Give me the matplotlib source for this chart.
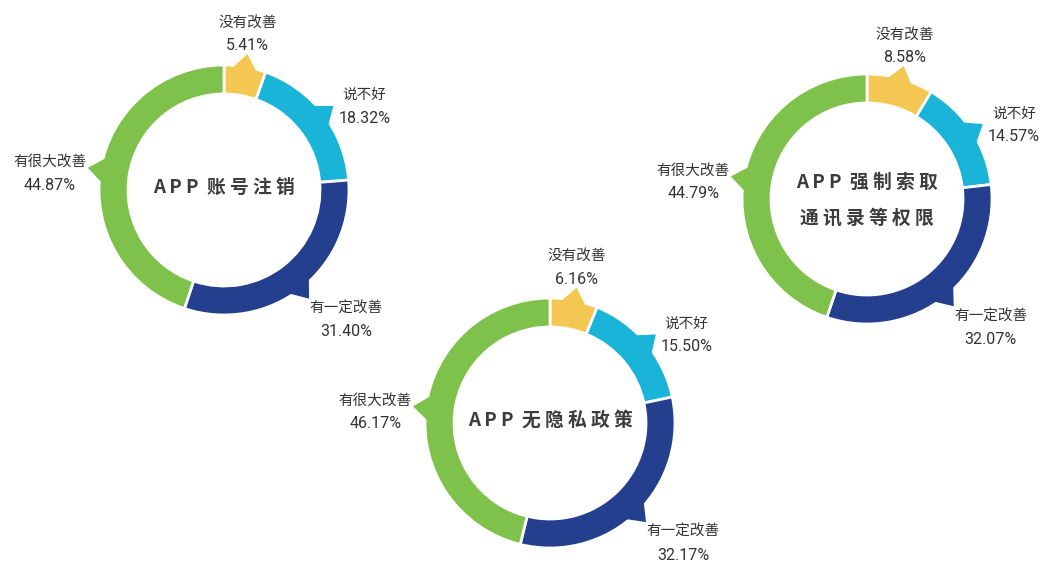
import numpy as np
import matplotlib.pyplot as plt
from matplotlib.patches import Polygon

plt.rcParams['font.family'] = ['Noto Sans CJK SC', 'DejaVu Sans']

# data
categories = ['没有改善', '说不好', '有一定改善', '有很大改善']
colors = ['#F4C752', '#1AB4D9', '#243F8E', '#7EC24B']
titles = ['A P P  账 号 注 销', 'A P P  无 隐 私 政 策',
          'A P P  强 制 索 取\n通 讯 录 等 权 限']
vals_account = [5.41, 18.32, 31.40, 44.87]
vals_policy = [6.16, 15.50, 32.17, 46.17]
vals_contacts = [8.58, 14.57, 32.07, 44.79]

W, H = 1051, 565
fig = plt.figure(figsize=(W / 100, H / 100), dpi=100)
ax = fig.add_axes([0, 0, 1, 1])

R = 125      # outer radius (px)
ring = 29    # ring width
# centres in pixel coords (y measured from bottom)
centres = [(224, H - 190), (550, H - 423), (867, H - 199)]
all_vals = [vals_account, vals_policy, vals_contacts]

for (cx, cy), vals, title in zip(centres, all_vals, titles):
    wedges, _ = ax.pie(vals, colors=colors, startangle=90, counterclock=False,
                       radius=R, center=(cx, cy),
                       wedgeprops=dict(width=ring, edgecolor='white', linewidth=2))
    for w, name, v in zip(wedges, categories, vals):
        mid = np.radians((w.theta1 + w.theta2) / 2)
        d = np.radians(6)
        pts = [(cx + (R - 3) * np.cos(mid - d), cy + (R - 3) * np.sin(mid - d)),
               (cx + (R + 13) * np.cos(mid), cy + (R + 13) * np.sin(mid)),
               (cx + (R - 3) * np.cos(mid + d), cy + (R - 3) * np.sin(mid + d))]
        ax.add_patch(Polygon(pts, closed=True, color=w.get_facecolor(), zorder=3, lw=0))

        # label block (name above, percentage below)
        pct = f'{v:.2f}%'
        hw = max(len(name) * 14.3, 9.8 * len(pct)) / 2
        c, s = np.cos(mid), np.sin(mid)
        if s > 0.8:
            bx, dy = cx + 140 * c, 18
        else:
            bx = cx + 140 * c + hw * np.clip(2 * c, -1, 1)
            if s < -0.5:
                dy = -20
            elif c > 0:
                dy = -2
            else:
                dy = -6
        by = cy + 140 * s + dy
        ax.text(bx, by + 11.5, name, ha='center', va='center', fontsize=10.5,
                color='#333333')
        ax.text(bx, by - 11.5, pct, ha='center', va='center', fontsize=11.5,
                family=['Roboto', 'DejaVu Sans'], color='#333333')

    off = 3 if '\n' not in title else -1
    ax.text(cx, cy + off, title, ha='center', va='center', fontsize=13.5,
            fontweight='bold', color='#3C3C3C', linespacing=2.07)

ax.set_xlim(0, W)
ax.set_ylim(0, H)
ax.set_aspect('equal')
ax.axis('off')

plt.savefig('out.png', dpi=100)
